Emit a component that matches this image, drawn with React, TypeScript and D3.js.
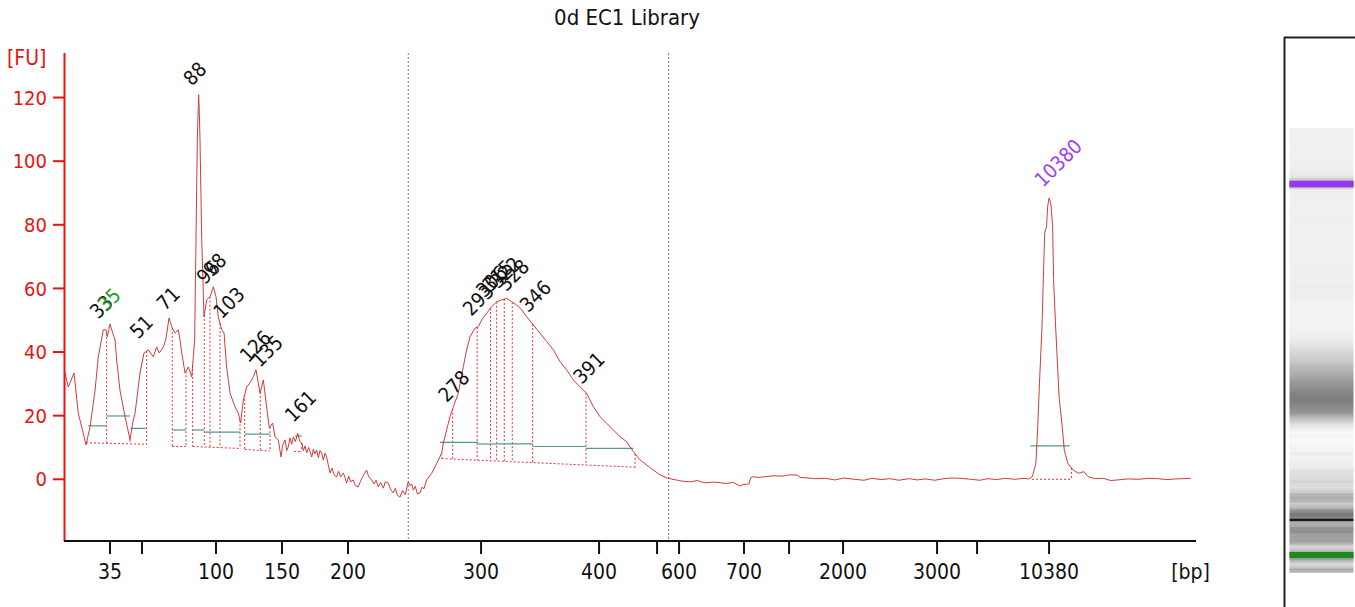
import React from "react";
import * as d3 from "d3";

const title = "0d EC1 Library";

// electropherogram trace: migration time (s) vs fluorescence (FU)
const traceTime = [
  43.08, 43.32, 43.75, 44.07, 44.33, 44.65, 44.95, 45.33, 45.57, 45.95, 46.15, 46.25, 46.45, 46.65,
  46.83, 46.95, 47.2, 47.58, 47.75, 47.95, 48.15, 48.33, 48.7, 49.0, 49.32, 49.7, 49.95, 50.15,
  50.45, 50.63, 50.88, 51.08, 51.33, 51.57, 51.7, 51.83, 52.08, 52.32, 52.58, 52.8, 52.9, 53.0,
  53.1, 53.15, 53.2, 53.33, 53.5, 53.7, 53.95, 54.2, 54.4, 54.57, 54.83, 55.0, 55.2, 55.45,
  55.83, 56.07, 56.25, 56.45, 56.7, 56.95, 57.2, 57.4, 57.57, 57.7, 57.95, 58.2, 58.4, 58.65,
  58.83, 59.07, 59.18, 59.28, 59.4, 59.58, 59.7, 59.82, 59.95, 60.08, 60.2, 60.35, 60.53, 60.68,
  60.83, 60.95, 61.08, 61.2, 61.35, 61.45, 61.58, 61.7, 61.82, 61.95, 62.08, 62.2, 62.33, 62.45,
  62.58, 62.7, 62.82, 62.95, 63.1, 63.25, 63.45, 63.6, 63.75, 63.95, 64.08, 64.2, 64.35, 64.5,
  64.7, 64.85, 65.07, 65.25, 65.45, 65.7, 65.85, 66.08, 66.25, 66.4, 66.57, 66.75, 66.95, 67.1,
  67.32, 67.5, 67.7, 67.85, 68.0, 68.2, 68.4, 68.6, 68.82, 68.95, 69.08, 69.2, 69.35, 69.5,
  69.7, 69.85, 70.0, 70.2, 70.58, 70.95, 71.33, 71.45, 71.7, 71.95, 72.2, 72.57, 72.95, 73.2,
  73.45, 73.83, 74.07, 74.33, 74.7, 75.08, 75.45, 75.83, 76.2, 76.58, 76.95, 77.33, 77.7, 78.2,
  78.7, 79.2, 79.7, 80.2, 80.7, 81.2, 81.7, 82.2, 82.7, 83.2, 83.7, 84.2, 84.7, 85.2, 85.7,
  86.2, 86.7, 87.2, 87.7, 88.22, 88.88, 89.4, 89.96, 90.5, 91.02, 91.8, 92.63, 93.2, 93.7,
  94.0, 94.37, 94.5, 94.71, 95.1, 95.57, 96.2, 96.91, 97.4, 97.98, 98.2, 98.51, 99.3, 100.11,
  100.8, 101.5, 102.25, 103.0, 103.6, 104.3, 104.93, 105.6, 106.4, 107.0, 107.6, 108.3, 109.0,
  109.6, 110.28, 111.0, 111.7, 112.3, 112.95, 113.6, 114.3, 115.0, 115.35, 115.62, 115.89,
  116.02, 116.16, 116.34, 116.55, 116.69, 116.77, 116.88, 117.01, 117.15, 117.22, 117.36,
  117.63, 117.89, 118.02, 118.29, 118.69, 119.1, 119.49, 119.82, 120.3, 120.96, 121.5, 122.03,
  122.8, 123.63, 124.3, 125.0, 125.7, 126.31, 127.0, 127.51,
];
const traceFU = [
  33.4, 29.0, 33.4, 20.8, 16.4, 10.8, 16.4, 28.0, 38.5, 47.0, 47.0, 44.8, 48.8, 46.0,
  43.8, 37.5, 28.0, 19.6, 16.4, 12.4, 17.7, 20.8, 33.4, 39.7, 40.7, 38.5, 41.6, 39.7,
  41.6, 43.8, 50.7, 47.9, 46.0, 47.0, 43.8, 39.7, 33.4, 35.3, 32.2, 43.8, 75.3, 106.7,
  120.9, 115.2, 106.7, 75.3, 51.1, 56.4, 57.4, 60.5, 57.4, 51.1, 47.0, 46.0, 35.3, 27.1,
  22.7, 20.8, 17.7, 24.9, 29.0, 30.3, 32.2, 34.4, 30.3, 27.1, 31.2, 22.7, 16.1, 17.7,
  13.3, 12.4, 9.5, 7.0, 10.8, 12.4, 9.0, 10.2, 13.0, 11.0, 13.3, 11.8, 14.5, 12.0,
  11.4, 9.0, 10.5, 8.3, 10.0, 8.8, 7.0, 9.5, 8.0, 9.2, 6.8, 9.0, 8.3, 6.0,
  8.2, 7.0, 4.5, 2.0, 3.5, 1.5, 0.7, 2.5, 0.8, 2.0, 0.5, -1.2, 1.0, -0.8,
  -0.2, -2.0, -2.4, -0.5, 1.2, 2.9, 0.8, -0.2, -1.5, -0.3, -2.4, -1.0, -2.8, -0.8,
  -1.2, -3.2, -4.3, -2.8, -5.0, -5.6, -3.5, -4.8, -0.8, -2.0, -1.5, -3.4, -2.2, -4.6,
  -4.3, -2.5, -3.0, -0.2, 1.9, 5.0, 8.2, 11.4, 15.5, 19.7, 22.8, 27.0, 35.4, 40.7,
  44.8, 47.5, 48.0, 50.1, 52.2, 54.3, 55.8, 56.4, 56.9, 55.8, 54.8, 53.2, 51.1, 48.5,
  45.9, 43.3, 40.7, 37.0, 34.4, 31.2, 29.1, 27.0, 22.8, 19.7, 17.6, 15.5, 13.4, 11.8, 8.7,
  6.1, 4.5, 2.9, 1.4, 0.4, -0.2, -0.6, -0.8, -0.4, -1.1, -0.9, -1.3, -1.0, -2.1,
  -1.6, -1.5, 0.5, 0.8, 0.6, 0.8, 1.1, 1.0, 1.4, 1.3, 0.6, 0.5, 0.2, 0.3,
  -0.2, 0.4, 0, -0.3, 0.3, -0.1, 0.2, -0.3, 0.2, -0.2, 0.1, -0.3, 0.2,
  0.4, 0.3, 0, -0.3, 0.2, -0.1, 0.3, 0, 0.3, 0.1, 0.8, 5.0,
  15.5, 30.2, 46.9, 77.4, 79.4, 85.7, 88.4, 86.8, 79.4, 62.7, 49.1,
  26.0, 15.5, 9.2, 5.0, 2.9, 1.9, 2.4, 0.8, 0.2, 0.3, -0.4, -0.2,
  0.1, 0, 0.3, 0.2, -0.1, 0.1, 0.2, 0.3,
];

// x axis: tick positions (migration time) and their size labels
const xTickTimes = [46.45, 48.85, 54.4, 59.35, 64.3, 74.28, 83.13, 87.48, 89.13, 94.0, 97.38, 101.43, 108.48, 111.48, 116.88];
const xTickLabels = ["35", "", "100", "150", "200", "300", "400", "", "600", "700", "", "2000", "3000", "", "10380"];
const yTicks = [0, 20, 40, 60, 80, 100, 120];

// smear region borders
const regionTimes = [68.82, 88.35];

// called peaks
const peakNames = ["33", "35", "51", "71", "88", "96", "98", "103", "126", "135", "161", "278", "293", "306", "315", "322", "328", "346", "391", "10380"];
const peakTimes = [46.02, 46.6, 49.02, 51.03, 53.03, 54.03, 54.53, 55.28, 57.27, 58.15, 60.65, 72.15, 73.99, 74.99, 75.45, 76.02, 76.62, 78.27, 82.28, 116.87];
const peakHeights = [47.3, 49.5, 41.0, 49.9, 120.6, 58.2, 60.5, 47.3, 33.6, 32.1, 14.8, 21.1, 48.2, 54.0, 55.8, 56.8, 56.0, 49.4, 26.8, 88.7];

// ladder markers (lower / upper)
const markerNames = ["35", "10380"];
const markerTimes = [46.45, 116.88];
const markerColors = ["#1a8a1a", "#9933ff"];

// integration baselines [t0, FU0, t1, FU1] and peak borders
const baselineSegs = [
  [44.65, 11.5, 49.2, 11.0],
  [51.12, 10.3, 52.15, 10.3],
  [52.65, 10.3, 56.2, 9.7],
  [56.55, 9.4, 58.45, 8.9],
  [60.25, 8.7, 60.83, 8.7],
  [71.33, 6.5, 85.83, 3.8],
  [115.6, 0, 118.56, 0],
];
const peakBorders = [46.2, 47.95, 49.2, 51.12, 52.15, 52.65, 53.52, 53.95, 54.7, 56.2, 56.55, 57.72, 58.45, 60.83,
  71.33, 72.15, 73.99, 74.99, 75.45, 76.02, 76.62, 78.15, 82.15, 85.83, 118.56];

// peak width bars [t0, t1, FU]
const widthBars = [
  [44.82, 46.15, 16.8], [46.2, 47.95, 19.9], [48.0, 49.13, 16.0], [51.12, 52.15, 15.5],
  [52.65, 53.52, 15.5], [53.52, 56.2, 14.8], [56.55, 58.45, 14.2], [60.33, 60.83, 13.6],
  [71.2, 74.07, 11.6], [74.07, 75.45, 11.1], [75.45, 78.15, 11.1], [78.15, 82.15, 10.3],
  [82.15, 85.7, 9.7], [115.48, 118.42, 10.5],
];

const W = 1355;
const H = 607;
const FONT = "'DejaVu Sans Condensed', 'DejaVu Sans', sans-serif";
const RED = "#e8130f";

export default function App() {
  const x = d3.scaleLinear().domain([43, 127.9]).range([64, 1196]);
  const y = d3.scaleLinear().domain([-19.4, 134]).range([541, 53]);

  const pts = traceTime.map((t, i) => [t, traceFU[i]] as [number, number]);
  const line = d3
    .line<[number, number]>()
    .x((d) => x(d[0]))
    .y((d) => y(d[1]));

  const bis = d3.bisector((d: [number, number]) => d[0]).left;
  const traceAt = (t: number) => {
    const i = Math.max(1, Math.min(pts.length - 1, bis(pts, t)));
    const a = pts[i - 1];
    const b = pts[i];
    return a[1] + ((b[1] - a[1]) * (t - a[0])) / (b[0] - a[0]);
  };
  const baseAt = (t: number) => {
    const s = baselineSegs.find((g) => t >= g[0] - 0.01 && t <= g[2] + 0.01);
    if (!s) return 0;
    return s[1] + ((s[3] - s[1]) * (t - s[0])) / (s[2] - s[0]);
  };

  // gel lane: migration time -> lane y, aligned on the two markers
  const gy = d3.scaleLinear().domain(markerTimes).range([555, 184]);
  const laneTop = gy(d3.max(traceTime) as number);
  const laneBot = gy(d3.min(traceTime) as number);
  const gray = (v: number) => {
    const g = Math.round(Math.max(0, Math.min(250, 240 - 2 * v)));
    return `rgb(${g},${g},${g})`;
  };
  const stops = pts
    .slice()
    .reverse()
    .map((p) => ({ off: (gy(p[0]) - laneTop) / (laneBot - laneTop), c: gray(p[1]) }));

  return (
    <div style={{ position: "fixed", left: 0, top: 0, background: "#fff" }}>
      <svg width={W} height={H} style={{ display: "block", fontFamily: FONT }}>
        <defs>
          <linearGradient id="lane" x1="0" y1="0" x2="0" y2="1">
            {stops.map((s, i) => (
              <stop key={i} offset={s.off} stopColor={s.c} />
            ))}
          </linearGradient>
        </defs>

        <text x={627} y={25} textAnchor="middle" fontSize={22} fill="#111">
          {title}
        </text>

        {/* smear region borders */}
        {regionTimes.map((t, i) => (
          <line key={i} x1={x(t)} x2={x(t)} y1={53} y2={541} stroke="#7474d0" strokeWidth={1} strokeDasharray="2 2" />
        ))}

        {/* baselines and peak borders */}
        {baselineSegs.map((g, i) => (
          <line key={i} x1={x(g[0])} x2={x(g[2])} y1={y(g[1])} y2={y(g[3])} stroke="#e03535" strokeWidth={1} strokeDasharray="2 2" />
        ))}
        {peakBorders.map((t, i) => (
          <line key={i} x1={x(t)} x2={x(t)} y1={y(traceAt(t))} y2={y(baseAt(t))} stroke="#e03535" strokeWidth={1} strokeDasharray="2 2" />
        ))}
        {widthBars.map((b, i) => (
          <line key={i} x1={x(b[0])} x2={x(b[1])} y1={y(b[2])} y2={y(b[2])} stroke="#4f9a88" strokeWidth={1.2} />
        ))}

        {/* trace */}
        <path d={line(pts) || ""} fill="none" stroke="#d23b3b" strokeWidth={1} />

        {/* peak labels */}
        {peakNames.map((n, i) => {
          const px = x(peakTimes[i]) - 6;
          const py = y(peakHeights[i]) - 9;
          const mi = markerNames.indexOf(n);
          const isMarker = mi >= 0 && Math.abs(markerTimes[mi] - peakTimes[i]) < 0.5;
          return (
            <text key={i} x={px} y={py} fontSize={20} fill={isMarker ? (mi === 0 ? "#2a9a2a" : "#a040f0") : "#111"} transform={`rotate(-45 ${px} ${py})`}>
              {n}
            </text>
          );
        })}

        {/* y axis */}
        <line x1={64.5} x2={64.5} y1={53} y2={541} stroke={RED} strokeWidth={2} />
        {yTicks.map((v) => (
          <g key={v}>
            <line x1={53} x2={64} y1={y(v)} y2={y(v)} stroke={RED} strokeWidth={2} />
            <text x={47} y={y(v)} dy="0.36em" textAnchor="end" fontSize={20} fill={RED}>
              {v}
            </text>
          </g>
        ))}
        <text x={7} y={57} dy="0.36em" fontSize={21} fill={RED}>
          [FU]
        </text>

        {/* x axis */}
        <line x1={64} x2={1196} y1={541} y2={541} stroke="#111" strokeWidth={2} />
        {xTickTimes.map((t, i) => (
          <g key={i}>
            <line x1={x(t)} x2={x(t)} y1={541} y2={554} stroke="#111" strokeWidth={2} />
            <text x={x(t)} y={579} textAnchor="middle" fontSize={21} fill="#111">
              {xTickLabels[i]}
            </text>
          </g>
        ))}
        <text x={1210} y={579} textAnchor="end" fontSize={21} fill="#111">
          [bp]
        </text>

        {/* gel lane */}
        <line x1={1284.5} x2={1284.5} y1={37} y2={H} stroke="#222" strokeWidth={2} />
        <line x1={1284} x2={W} y1={37.5} y2={37.5} stroke="#222" strokeWidth={2} />
        <rect x={1289.5} y={laneTop} width={64} height={laneBot - laneTop} fill="url(#lane)" />
        {markerTimes.map((t, i) => (
          <rect key={i} x={1289.5} y={gy(t) - 3} width={64} height={6} fill={markerColors[i]} />
        ))}
      </svg>
    </div>
  );
}
